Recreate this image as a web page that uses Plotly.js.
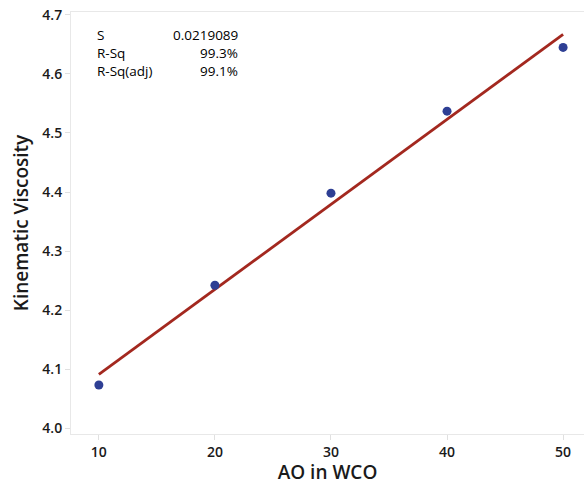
<!DOCTYPE html>
<html>
<head>
<meta charset="utf-8">
<script src="https://cdn.plot.ly/plotly-3.0.1.min.js"></script>
<style>html,body{margin:0;padding:0;background:#fff;}#chart{width:584px;height:485px;}</style>
</head>
<body>
<div id="chart"></div>
<script>
const aoX = [10, 20, 30, 40, 50];
const viscosity = [4.073, 4.242, 4.398, 4.537, 4.645];
const fitX = [10, 50];
const fitY = [4.091, 4.667];
const statLabels = ["S", "R-Sq", "R-Sq(adj)"];
const statValues = ["0.0219089", "99.3%", "99.1%"];
const xTicks = [10, 20, 30, 40, 50];
const yTicks = [4.0, 4.1, 4.2, 4.3, 4.4, 4.5, 4.6, 4.7];

const fnt = "'Open Sans', 'Noto Sans', sans-serif";
const rowY = [0.9455, 0.9028, 0.860];
const annotations = [];
statLabels.forEach((t, i) => {
  annotations.push({xref:'paper', yref:'paper', x:0.047, y:rowY[i], text:t, showarrow:false,
    xanchor:'left', yanchor:'middle', font:{family:fnt, size:13.5, color:'#000'}});
  annotations.push({xref:'paper', yref:'paper', x:0.329, y:rowY[i], text:statValues[i], showarrow:false,
    xanchor:'right', yanchor:'middle', font:{family:fnt, size:13.5, color:'#000'}});
});

const data = [
  {x: fitX, y: fitY, mode:'lines', type:'scatter', line:{color:'#A3281F', width:2.8}, hoverinfo:'skip'},
  {x: aoX, y: viscosity, mode:'markers', type:'scatter', marker:{color:'#2E3F94', size:9}}
];

const layout = {
  width:584, height:485,
  margin:{l:71, r:0, t:12, b:51},
  paper_bgcolor:'#fff', plot_bgcolor:'#fff',
  showlegend:false,
  xaxis:{range:[7.6, 51.8], tickvals:xTicks, ticktext:xTicks.map(String),
    showgrid:false, zeroline:false, showline:true, mirror:true, linecolor:'#e8e8e8', linewidth:1,
    ticks:'outside', ticklen:5, tickcolor:'#e0e0e0',
    tickfont:{family:fnt, size:14, color:'#1a1a1a', weight:600},
    title:{text:'AO in WCO', font:{family:fnt, size:19, color:'#1a1a1a', weight:600}, standoff:6}},
  yaxis:{range:[3.99, 4.705], tickvals:yTicks, ticktext:yTicks.map(v=>v.toFixed(1)),
    showgrid:false, zeroline:false, showline:true, mirror:true, linecolor:'#e8e8e8', linewidth:1,
    ticks:'outside', ticklen:5, tickcolor:'#e0e0e0',
    tickfont:{family:fnt, size:14, color:'#1a1a1a', weight:600},
    title:{text:'Kinematic Viscosity', font:{family:fnt, size:19, color:'#1a1a1a', weight:600}, standoff:8}},
  annotations: annotations
};

Plotly.newPlot('chart', data, layout, {displayModeBar:false, staticPlot:true});
</script>
</body>
</html>
